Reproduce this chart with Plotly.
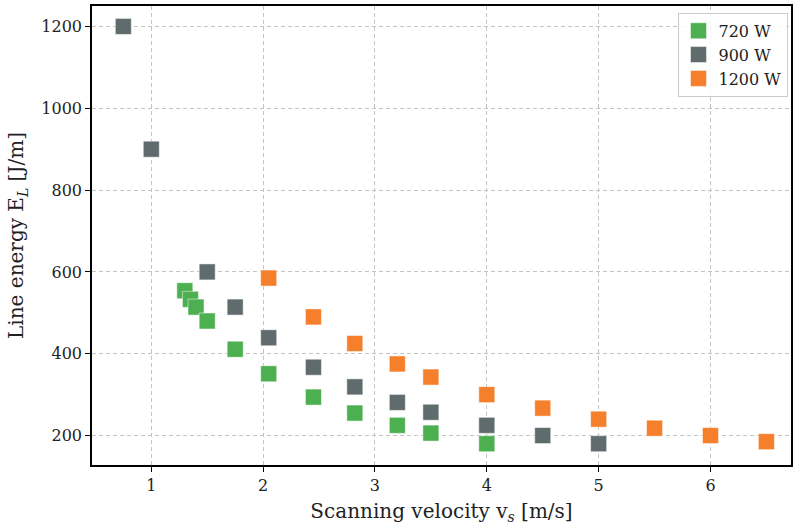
import plotly.graph_objects as go

v720 = [1.3, 1.35, 1.4, 1.5, 1.75, 2.05, 2.45, 2.82, 3.2, 3.5, 4.0]
e720 = [554, 533, 514, 480, 411, 351, 294, 255, 225, 206, 180]
v900 = [0.75, 1.0, 1.5, 1.75, 2.05, 2.45, 2.82, 3.2, 3.5, 4.0, 4.5, 5.0]
e900 = [1200, 900, 600, 514, 439, 367, 319, 281, 257, 225, 200, 180]
v1200 = [2.05, 2.45, 2.82, 3.2, 3.5, 4.0, 4.5, 5.0, 5.5, 6.0, 6.5]
e1200 = [585, 490, 425, 375, 343, 300, 267, 240, 218, 200, 185]

series = [("720 W", v720, e720, "#4caf50"),
          ("900 W", v900, e900, "#5f6b6d"),
          ("1200 W", v1200, e1200, "#f57f2b")]

fig = go.Figure()
for name, x, y, c in series:
    fig.add_trace(go.Scatter(x=x, y=y, mode="markers", name=name,
                             marker=dict(symbol="square", size=16, color=c,
                                         line=dict(width=0.5, color="white"))))

font = "DejaVu Serif"
axis_common = dict(showline=True, linecolor="black", linewidth=1.5, mirror=True,
                   ticks="outside", ticklen=5, tickcolor="black",
                   showgrid=True, gridcolor="#c4c4c4", griddash="4px,3px", gridwidth=1,
                   zeroline=False, tickfont=dict(family=font, size=16, color="#222"))
fig.update_layout(
    width=795, height=526, plot_bgcolor="white", paper_bgcolor="white",
    margin=dict(l=92, r=2, t=6, b=61),
    font=dict(family=font, color="#222"),
    xaxis=dict(range=[0.47, 6.72], tickvals=[1, 2, 3, 4, 5, 6],
               title=dict(text="Scanning velocity v<sub><i>s</i></sub> [m/s]", font=dict(size=20), standoff=10),
               **axis_common),
    yaxis=dict(range=[128, 1250], tickvals=[200, 400, 600, 800, 1000, 1200],
               title=dict(text="Line energy E<sub><i>L</i></sub> [J/m]", font=dict(size=20), standoff=12),
               **axis_common),
    legend=dict(x=0.995, y=0.985, xanchor="right", yanchor="top",
                bgcolor="rgba(255,255,255,0.85)", bordercolor="#cccccc", borderwidth=1,
                font=dict(family=font, size=16), itemsizing="trace", tracegroupgap=0),
)
fig.write_html("out.html")
